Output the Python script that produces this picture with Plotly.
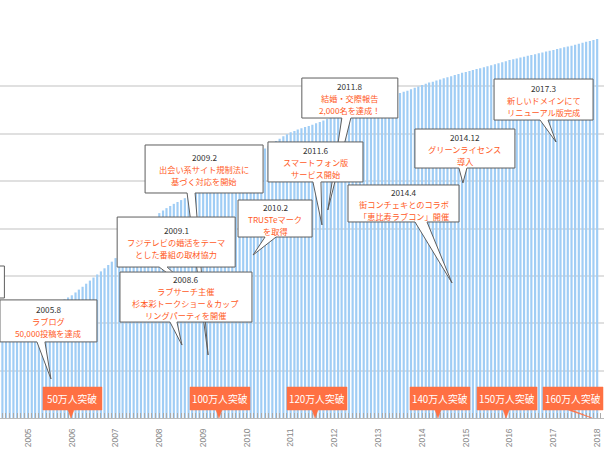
import plotly.graph_objects as go
import pandas as pd

# ---------------- data ----------------
start_month = "2004-05-01"
members_man = [
    38.6, 39.1, 39.7, 40.2, 40.8, 41.3, 41.9, 42.4,
    43.0, 43.6, 44.3, 44.9, 45.6, 46.3, 47.0, 47.8, 48.5, 49.3, 50.1, 50.9,
    51.8, 53.0, 54.2, 55.4, 56.7, 58.0, 59.3, 60.6, 61.9, 63.2, 64.6, 66.0,
    67.5, 69.0, 70.6, 72.1, 73.7, 75.2, 76.8, 78.3, 79.9, 81.5, 83.1, 84.8,
    86.5, 87.6, 88.6, 89.5, 90.4, 91.2, 92.0, 92.8, 93.6, 94.4, 95.2, 96.0,
    96.9, 98.0, 99.1, 100.1, 101.0, 101.9, 102.8, 103.7, 104.6, 105.5, 106.4, 107.3,
    108.3, 109.4, 110.5, 111.6, 112.7, 113.8, 114.9, 115.9, 116.9, 117.9, 118.9, 119.8,
    120.6, 121.2, 121.8, 122.3, 122.8, 123.3, 123.8, 124.4, 125.0, 125.6, 126.2, 126.9,
    127.6, 128.1, 128.6, 129.1, 129.6, 130.1, 130.7, 131.2, 131.8, 132.4, 133.0, 133.6,
    134.2, 134.7, 135.2, 135.7, 136.2, 136.7, 137.2, 137.7, 138.2, 138.8, 139.4, 140.0,
    140.6, 141.1, 141.6, 142.0, 142.5, 142.9, 143.4, 143.8, 144.3, 144.8, 145.2, 145.7,
    146.1, 146.5, 146.9, 147.3, 147.7, 148.1, 148.5, 148.9, 149.3, 149.8, 150.2, 150.6,
    151.1, 151.5, 151.8, 152.2, 152.5, 152.9, 153.2, 153.6, 154.0, 154.3, 154.7, 155.0,
    155.4, 155.8, 156.1, 156.5, 156.8, 157.2, 157.6, 158.0, 158.4, 158.8, 159.2, 159.6,
    160.0,
]
months = pd.date_range(start_month, periods=len(members_man), freq="MS")

event_dates = ["2005.8", "2008.6", "2009.1", "2009.2", "2010.2",
               "2011.6", "2011.8", "2014.4", "2014.12", "2017.3"]
event_texts = [
    ["ラブログ", "50,000投稿を達成"],
    ["ラブサーチ主催", "杉本彩トークショー＆カップ", "リングパーティを開催"],
    ["フジテレビの婚活をテーマ", "とした番組の取材協力"],
    ["出会い系サイト規制法に", "基づく対応を開始"],
    ["TRUSTeマーク", "を取得"],
    ["スマートフォン版", "サービス開始"],
    ["結婚・交際報告", "2,000名を達成！"],
    ["街コンチェキとのコラボ", "「恵比寿ラブコン」開催"],
    ["グリーンライセンス", "導入"],
    ["新しいドメインにて", "リニューアル版完成"],
]

milestone_labels = ["50万人突破", "100万人突破", "120万人突破",
                    "140万人突破", "150万人突破", "160万人突破"]
milestone_dates = ["2005-12-25", "2009-05-13", "2011-07-23",
                   "2014-05-14", "2015-12-03", "2017-11-19"]

# ---------------- callout layout (tip anchor + pixel geometry) ----------------
# tip: (date, value) the pointer touches; box: (left, top, right, bottom) px offsets
# from tip (screen, y down); base: pointer base x offsets on bottom edge
callout_layout = [
    dict(tip=("2005-07-11", 16.5), box=(-51, -79, 46, -37), base=(-14, -6)),
    dict(tip=("2008-07-08", 30.8), box=(-62, -73, 70, -23), base=(-12, -5)),
    dict(tip=("2009-01-01", 49.8), box=(-86, -83, 32, -33), base=(-44, -36)),
    dict(tip=("2009-02-11", 26.6), box=(-63, -210, 55, -162), base=(-21, -13)),
    dict(tip=("2010-02-21", 68.8), box=(-15, -55, 59, -18), base=(12, 23)),
    dict(tip=("2011-09-19", 81.5), box=(-54, -83, 41, -43), base=(-9, -1)),
    dict(tip=("2011-11-07", 87.8), box=(-26, -132, 70, -92), base=(14, 23)),
    dict(tip=("2014-09-08", 57.0), box=(-104, -98, 7, -61), base=(-37, -25)),
    dict(tip=("2014-12-08", 99.2), box=(-48, -54, 52, -15), base=(-4, 4)),
    dict(tip=("2017-01-23", 116.5), box=(-62, -63, 37, -22), base=(-16, -8)),
]
draw_order = [0, 3, 2, 1, 4, 6, 5, 7, 8, 9]
LINE_STEP = 12.0      # px between text lines in a callout
CALLOUT_FONT = 8.2

milestone_layout = [
    dict(box=(-28, -31, 31, -8), base=(-3, 3)),
    dict(box=(-29, -31, 31, -8), base=(-3, 3)),
    dict(box=(-28, -31, 32, -8), base=(-3, 3)),
    dict(box=(-28, -31, 32, -8), base=(-3, 3)),
    dict(box=(-29, -31, 31, -8), base=(-3, 3)),
    dict(box=(-49, -31, 11, -8), base=(-24, -20)),
]

ORANGE_TEXT = "#ff5a1e"
ORANGE_BOX = "#ff7043"
BAR_COLOR = "#a0cdf5"
BORDER = "#5e5e5e"
FONT_JP = "Noto Sans CJK JP"


def callout_path(box, base):
    L, T, R, B = box
    b0, b1 = base
    pts = [(L, T), (R, T), (R, B), (b1, B), (0, 0), (b0, B), (L, B)]
    return "M" + " L".join(f"{x},{-y}" for x, y in pts) + " Z"


def rect_path(box):
    L, T, R, B = box
    pts = [(L, T), (R, T), (R, B), (L, B)]
    return "M" + " L".join(f"{x},{-y}" for x, y in pts) + " Z"


fig = go.Figure()
fig.add_trace(go.Bar(x=months, y=members_man, marker=dict(color=BAR_COLOR, line=dict(width=0)),
                     hoverinfo="skip"))

shapes = []
annotations = []

# box cropped at the left edge of the picture
shapes.append(dict(type="path", xref="x", yref="y", xsizemode="pixel", ysizemode="pixel",
                   xanchor="2004-06-01", yanchor=0,
                   path=rect_path((-40, -152, 2, -120)),
                   fillcolor="white", line=dict(color=BORDER, width=1), layer="above"))

for i in draw_order:
    cl = callout_layout[i]
    d, v = cl["tip"]
    shapes.append(dict(type="path", xref="x", yref="y", xsizemode="pixel", ysizemode="pixel",
                       xanchor=d, yanchor=v, path=callout_path(cl["box"], cl["base"]),
                       fillcolor="white", line=dict(color=BORDER, width=1), layer="above"))

for i in range(len(event_dates)):
    cl = callout_layout[i]
    d, v = cl["tip"]
    L, T, R, B = cl["box"]
    lines = [event_dates[i]] + event_texts[i]
    n = len(lines)
    cx = (L + R) / 2
    cy = (T + B) / 2 + 0.3
    for k, line in enumerate(lines):
        ly = cy + (k - (n - 1) / 2) * LINE_STEP
        annotations.append(dict(x=d, y=v, xref="x", yref="y", showarrow=False,
                                xshift=cx, yshift=-ly,
                                xanchor="center", yanchor="middle", align="center",
                                text=line,
                                font=dict(family=FONT_JP, size=CALLOUT_FONT,
                                          color="#333333" if k == 0 else ORANGE_TEXT)))

for lab, d, ml in zip(milestone_labels, milestone_dates, milestone_layout):
    shapes.append(dict(type="path", xref="x", yref="y", xsizemode="pixel", ysizemode="pixel",
                       xanchor=d, yanchor=0, path=callout_path(ml["box"], ml["base"]),
                       fillcolor=ORANGE_BOX, line=dict(color=ORANGE_BOX, width=0.5), layer="above"))
    L, T, R, B = ml["box"]
    annotations.append(dict(x=d, y=0, xref="x", yref="y", showarrow=False,
                            xshift=(L + R) / 2, yshift=-(T + B) / 2,
                            xanchor="center", yanchor="middle",
                            text=lab, font=dict(family=FONT_JP, size=9.8, color="white")))

fig.update_layout(
    width=610, height=469,
    margin=dict(l=0, r=6, t=39, b=51),
    paper_bgcolor="white", plot_bgcolor="white",
    showlegend=False, bargap=0.35,
    shapes=shapes, annotations=annotations,
    xaxis=dict(type="date", range=["2004-05-12", "2018-02-27"],
               tick0="2005-01-01", dtick="M12", tickformat="%Y", tickangle=-90,
               ticks="inside", ticklen=5, tickcolor="#aaaaaa",
               minor=dict(dtick="M1", ticks="inside", ticklen=5, tickcolor="#aaaaaa", showgrid=False),
               showline=True, linecolor="#bbbbbb", linewidth=1,
               showgrid=False, ticklabelstandoff=6,
               tickfont=dict(family="Liberation Sans", size=8.5, color="#888888")),
    yaxis=dict(range=[0, 160], dtick=20, showticklabels=False, zeroline=False,
               gridcolor="#e0e0e0", gridwidth=1.5, showline=False, ticks=""),
)

fig.write_html("out.html")
